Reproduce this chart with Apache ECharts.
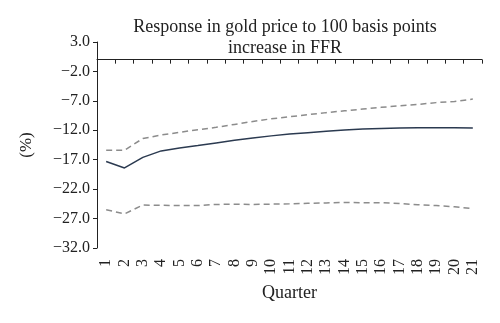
<!DOCTYPE html>
<html>
<head>
<meta charset="utf-8">
<script src="https://cdn.jsdelivr.net/npm/echarts@6/dist/echarts.min.js"></script>
<style>html,body{margin:0;padding:0;background:#fff}#c{width:500px;height:323px}</style>
</head>
<body>
<div id="c"></div>
<script>
const quarters = ['1','2','3','4','5','6','7','8','9','10','11','12','13','14','15','16','17','18','19','20','21'];
const response = [-17.3,-18.4,-16.6,-15.5,-15.0,-14.6,-14.15,-13.7,-13.3,-12.95,-12.65,-12.4,-12.15,-11.95,-11.8,-11.7,-11.6,-11.55,-11.55,-11.55,-11.6];
const upperBand = [-15.4,-15.4,-13.4,-12.8,-12.35,-11.9,-11.5,-11.0,-10.5,-10.05,-9.7,-9.35,-9.0,-8.7,-8.4,-8.1,-7.85,-7.6,-7.3,-7.1,-6.7];
const lowerBand = [-25.5,-26.2,-24.7,-24.75,-24.8,-24.8,-24.6,-24.55,-24.6,-24.55,-24.5,-24.4,-24.35,-24.25,-24.3,-24.3,-24.45,-24.65,-24.8,-25.0,-25.3];
const yMin = -32, yMax = 3, yStep = 5;
const titleText = 'Response in gold price to 100 basis points\nincrease in FFR';

const FONT = '"Liberation Serif", "DejaVu Serif", serif';
const chart = echarts.init(document.getElementById('c'), null, {renderer: 'canvas'});
chart.setOption({
  animation: false,
  backgroundColor: '#fff',
  graphic: [{
    type: 'text',
    x: 285,
    y: 17,
    style: {
      text: titleText,
      font: '18px ' + FONT,
      fill: '#222',
      align: 'center',
      verticalAlign: 'top',
      lineHeight: 21
    }
  }],
  grid: {left: 97, right: 18, top: 42, bottom: 75, containLabel: false},
  xAxis: [{
    type: 'category',
    data: quarters,
    position: 'bottom',
    boundaryGap: true,
    axisLine: {show: false, onZero: false},
    axisTick: {show: false},
    axisLabel: {rotate: 90, interval: 0, margin: 11, fontFamily: FONT, fontSize: 16, color: '#222'},
    name: 'Quarter',
    nameLocation: 'middle',
    nameGap: 36,
    nameTextStyle: {fontFamily: FONT, fontSize: 18, color: '#222'}
  }, {
    type: 'category',
    data: quarters,
    position: 'bottom',
    boundaryGap: true,
    axisLine: {show: true, onZero: true, onZeroAxisIndex: 0, lineStyle: {color: '#222', width: 1}},
    axisTick: {show: true, interval: 0, length: 4, lineStyle: {color: '#222'}},
    axisLabel: {show: false}
  }],
  yAxis: {
    type: 'value',
    min: yMin, max: yMax, interval: yStep,
    axisLine: {show: true, lineStyle: {color: '#222', width: 1}},
    axisTick: {show: true, length: 4, lineStyle: {color: '#222'}},
    splitLine: {show: false},
    axisLabel: {
      margin: 7, fontFamily: FONT, fontSize: 16, color: '#222',
      formatter: v => (v < 0 ? '\u2212' : '') + Math.abs(v).toFixed(1)
    },
    name: '(%)',
    nameLocation: 'middle',
    nameGap: 62,
    nameRotate: 90,
    nameTextStyle: {fontFamily: FONT, fontSize: 17, color: '#222'}
  },
  series: [{
    type: 'line', data: upperBand, xAxisIndex: 0, symbol: 'none',
    lineStyle: {color: '#8c8c8c', width: 1.5, type: [6, 4]}
  }, {
    type: 'line', data: lowerBand, xAxisIndex: 0, symbol: 'none',
    lineStyle: {color: '#8c8c8c', width: 1.5, type: [6, 4]}
  }, {
    type: 'line', data: response, xAxisIndex: 0, symbol: 'none',
    lineStyle: {color: '#2b3a50', width: 1.5}
  }]
});
</script>
</body>
</html>
